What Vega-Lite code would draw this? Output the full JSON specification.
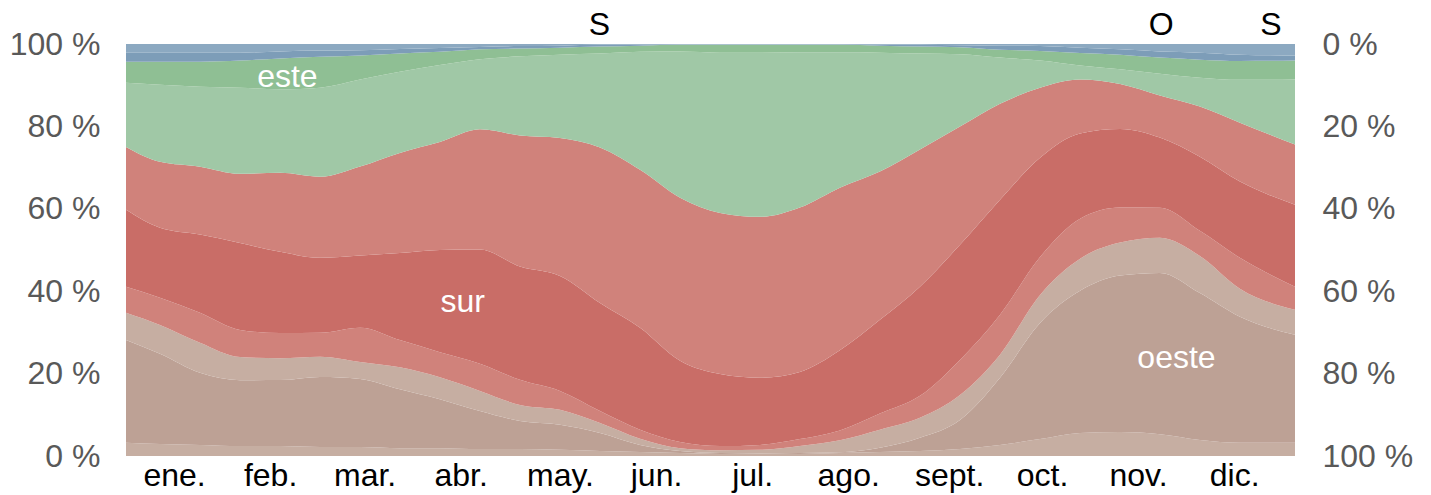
{
  "$schema": "https://vega.github.io/schema/vega-lite/v6.json",
  "autosize": {"type": "none"},
  "padding": {"left": 126, "top": 44, "right": 136, "bottom": 39},
  "width": 1169,
  "height": 412,
  "background": "white",
  "config": {
    "view": {"stroke": null},
    "font": "Liberation Sans"
  },
  "layer": [
    {
      "data": {"values": [
        {"d": 0, "k01": 3.2, "k02": 25.0, "k03": 6.6, "k04": 6.3, "k05": 18.7, "k06": 15.3, "k07": 15.6, "k08": 5.1, "k09": 2.2, "k10": 2.1},
        {"d": 10.6, "k01": 2.9, "k02": 21.9, "k03": 7.0, "k04": 6.6, "k05": 17.0, "k06": 16.0, "k07": 18.7, "k08": 5.6, "k09": 2.2, "k10": 2.1},
        {"d": 23.1, "k01": 2.7, "k02": 17.5, "k03": 7.3, "k04": 7.3, "k05": 19.0, "k06": 16.5, "k07": 19.4, "k08": 6.1, "k09": 2.2, "k10": 2.1},
        {"d": 35.6, "k01": 2.4, "k02": 16.0, "k03": 5.6, "k04": 6.6, "k05": 21.1, "k06": 16.8, "k07": 20.9, "k08": 6.6, "k09": 1.9, "k10": 2.1},
        {"d": 48.1, "k01": 2.4, "k02": 16.0, "k03": 5.3, "k04": 6.1, "k05": 19.7, "k06": 19.2, "k07": 20.2, "k08": 7.5, "k09": 1.7, "k10": 1.8},
        {"d": 60.6, "k01": 2.2, "k02": 17.0, "k03": 4.9, "k04": 5.8, "k05": 18.2, "k06": 19.7, "k07": 21.6, "k08": 7.5, "k09": 1.5, "k10": 1.6},
        {"d": 73.1, "k01": 2.2, "k02": 16.5, "k03": 4.1, "k04": 8.3, "k05": 17.5, "k06": 21.6, "k07": 21.1, "k08": 5.8, "k09": 1.3, "k10": 1.5},
        {"d": 85.5, "k01": 1.9, "k02": 14.3, "k03": 5.3, "k04": 6.6, "k05": 21.1, "k06": 24.3, "k07": 19.7, "k08": 4.4, "k09": 1.1, "k10": 1.2},
        {"d": 98.0, "k01": 1.9, "k02": 11.9, "k03": 5.3, "k04": 6.1, "k05": 24.8, "k06": 26.2, "k07": 18.7, "k08": 3.2, "k09": 0.9, "k10": 1.0},
        {"d": 110.5, "k01": 1.7, "k02": 9.2, "k03": 4.9, "k04": 6.6, "k05": 27.7, "k06": 29.2, "k07": 17.0, "k08": 2.4, "k09": 0.6, "k10": 0.7},
        {"d": 123.0, "k01": 1.7, "k02": 6.8, "k03": 3.9, "k04": 6.1, "k05": 27.5, "k06": 31.8, "k07": 19.2, "k08": 1.9, "k09": 0.6, "k10": 0.5},
        {"d": 135.5, "k01": 1.5, "k02": 6.1, "k03": 3.6, "k04": 4.6, "k05": 27.9, "k06": 33.5, "k07": 20.2, "k08": 1.7, "k09": 0.5, "k10": 0.4},
        {"d": 148.0, "k01": 1.2, "k02": 4.4, "k03": 2.4, "k04": 2.9, "k05": 26.2, "k06": 37.7, "k07": 22.8, "k08": 1.7, "k09": 0.4, "k10": 0.2},
        {"d": 160.5, "k01": 1.0, "k02": 1.7, "k03": 1.5, "k04": 2.2, "k05": 24.8, "k06": 38.4, "k07": 28.7, "k08": 1.5, "k09": 0.2, "k10": 0.2},
        {"d": 173.0, "k01": 0.7, "k02": 0.5, "k03": 0.7, "k04": 1.5, "k05": 19.7, "k06": 39.6, "k07": 35.5, "k08": 1.6, "k09": 0.1, "k10": 0.1},
        {"d": 185.5, "k01": 0.5, "k02": 0.2, "k03": 0.7, "k04": 1.0, "k05": 17.5, "k06": 39.1, "k07": 38.9, "k08": 1.9, "k09": 0.1, "k10": 0.1},
        {"d": 198.0, "k01": 0.5, "k02": 0.1, "k03": 0.9, "k04": 1.2, "k05": 16.3, "k06": 39.1, "k07": 39.9, "k08": 1.9, "k09": 0.1, "k10": 0.1},
        {"d": 210.4, "k01": 0.5, "k02": 0.2, "k03": 1.7, "k04": 1.7, "k05": 16.3, "k06": 39.9, "k07": 37.7, "k08": 1.8, "k09": 0.1, "k10": 0.1},
        {"d": 222.9, "k01": 0.7, "k02": 0.2, "k03": 2.9, "k04": 2.4, "k05": 19.4, "k06": 39.4, "k07": 32.8, "k08": 1.8, "k09": 0.1, "k10": 0.1},
        {"d": 235.4, "k01": 1.0, "k02": 1.0, "k03": 4.4, "k04": 3.9, "k05": 22.8, "k06": 36.0, "k07": 28.9, "k08": 1.7, "k09": 0.2, "k10": 0.2},
        {"d": 247.9, "k01": 1.2, "k02": 3.2, "k03": 4.9, "k04": 5.3, "k05": 26.5, "k06": 33.3, "k07": 23.3, "k08": 1.7, "k09": 0.4, "k10": 0.2},
        {"d": 260.4, "k01": 1.7, "k02": 7.0, "k03": 6.1, "k04": 8.5, "k05": 27.9, "k06": 28.7, "k07": 17.5, "k08": 1.7, "k09": 0.5, "k10": 0.3},
        {"d": 272.9, "k01": 2.7, "k02": 16.3, "k03": 5.6, "k04": 9.7, "k05": 27.9, "k06": 23.3, "k07": 11.2, "k08": 1.9, "k09": 1.0, "k10": 0.4},
        {"d": 285.4, "k01": 4.1, "k02": 28.2, "k03": 6.8, "k04": 9.2, "k05": 24.1, "k06": 17.0, "k07": 6.6, "k08": 2.3, "k09": 1.2, "k10": 0.5},
        {"d": 297.9, "k01": 5.6, "k02": 34.5, "k03": 7.8, "k04": 9.7, "k05": 20.7, "k06": 13.1, "k07": 3.4, "k08": 3.0, "k09": 1.3, "k10": 0.9},
        {"d": 310.4, "k01": 5.8, "k02": 37.9, "k03": 8.0, "k04": 8.5, "k05": 19.0, "k06": 10.9, "k07": 3.6, "k08": 3.5, "k09": 1.3, "k10": 1.3},
        {"d": 322.8, "k01": 5.3, "k02": 39.1, "k03": 8.5, "k04": 7.3, "k05": 17.0, "k06": 10.2, "k07": 5.3, "k08": 3.9, "k09": 1.5, "k10": 1.8},
        {"d": 335.3, "k01": 3.9, "k02": 35.7, "k03": 9.0, "k04": 6.1, "k05": 18.0, "k06": 12.2, "k07": 7.0, "k08": 4.4, "k09": 1.7, "k10": 2.1},
        {"d": 347.8, "k01": 3.2, "k02": 30.6, "k03": 6.8, "k04": 7.5, "k05": 18.5, "k06": 14.3, "k07": 10.4, "k08": 4.6, "k09": 1.5, "k10": 2.6},
        {"d": 365, "k01": 3.2, "k02": 26.2, "k03": 6.1, "k04": 5.6, "k05": 19.9, "k06": 14.6, "k07": 15.8, "k08": 4.6, "k09": 1.2, "k10": 2.8}
      ]},
      "transform": [{"fold": ["k01", "k02", "k03", "k04", "k05", "k06", "k07", "k08", "k09", "k10"], "as": ["band", "pct"]}],
      "mark": {"type": "area", "interpolate": "monotone"},
      "encoding": {
        "x": {
          "field": "d", "type": "quantitative",
          "scale": {"domain": [0, 365], "nice": false, "zero": false},
          "axis": {
            "values": [15, 45, 74.5, 104.5, 135.5, 165.5, 195.5, 225.5, 257, 286, 316, 346],
            "labelExpr": "['ene.','feb.','mar.','abr.','may.','jun.','jul.','ago.','sept.','oct.','nov.','dic.'][floor(datum.value/30.42)]",
            "title": null, "grid": false, "ticks": false, "domain": false,
            "labelFontSize": 32, "labelColor": "#000000", "labelFont": "Liberation Sans",
            "labelPadding": 4, "labelFlush": false, "labelOverlap": false
          }
        },
        "y": {
          "field": "pct", "type": "quantitative", "stack": "normalize",
          "scale": {"domain": [0, 1], "nice": false},
          "axis": {
            "orient": "left",
            "values": [0, 0.2, 0.4, 0.6, 0.8, 1],
            "labelExpr": "round(datum.value*100) + ' %'",
            "title": null, "grid": false, "ticks": false, "domain": false,
            "labelFontSize": 32, "labelColor": "#595959", "labelFont": "Liberation Sans",
            "labelPadding": 26, "labelFlush": false
          }
        },
        "color": {
          "field": "band", "type": "nominal",
          "scale": {
            "domain": ["k01", "k02", "k03", "k04", "k05", "k06", "k07", "k08", "k09", "k10"],
            "range": ["#c6aea2", "#bda195", "#c6aea2", "#d0827b", "#c96d67", "#d0827b", "#a0c8a6", "#8fbf94", "#7d9db8", "#8ca9c1"]
          },
          "legend": null
        },
        "order": {"field": "band", "sort": "ascending"}
      }
    },
    {
      "data": {"values": [
        {"d": 50.4, "y": 0.92, "t": "este"},
        {"d": 105.1, "y": 0.374, "t": "sur"},
        {"d": 328, "y": 0.238, "t": "oeste"}
      ]},
      "mark": {"type": "text", "fontSize": 32, "font": "Liberation Sans", "color": "#ffffff", "baseline": "middle", "align": "center"},
      "encoding": {
        "x": {
          "field": "d", "type": "quantitative",
          "scale": {"domain": [0, 365], "nice": false, "zero": false},
          "axis": {
            "values": [15, 45, 74.5, 104.5, 135.5, 165.5, 195.5, 225.5, 257, 286, 316, 346],
            "labelExpr": "['ene.','feb.','mar.','abr.','may.','jun.','jul.','ago.','sept.','oct.','nov.','dic.'][floor(datum.value/30.42)]",
            "title": null, "grid": false, "ticks": false, "domain": false,
            "labelFontSize": 32, "labelColor": "#000000", "labelFont": "Liberation Sans",
            "labelPadding": 4, "labelFlush": false, "labelOverlap": false
          }
        },
        "y": {
          "field": "y", "type": "quantitative",
          "scale": {"domain": [0, 1], "nice": false},
          "axis": {
            "orient": "right",
            "values": [0, 0.2, 0.4, 0.6, 0.8, 1],
            "labelExpr": "round(100 - datum.value*100) + ' %'",
            "title": null, "grid": false, "ticks": false, "domain": false,
            "labelFontSize": 32, "labelColor": "#595959", "labelFont": "Liberation Sans",
            "labelPadding": 27, "labelFlush": false
          }
        },
        "text": {"field": "t"}
      }
    },
    {
      "data": {"values": [
        {"d": 147.8, "y": 1.047, "t": "S"},
        {"d": 323.2, "y": 1.047, "t": "O"},
        {"d": 357.5, "y": 1.047, "t": "S"}
      ]},
      "mark": {"type": "text", "fontSize": 32, "font": "Liberation Sans", "color": "#000000", "baseline": "middle", "align": "center"},
      "encoding": {
        "x": {
          "field": "d", "type": "quantitative",
          "scale": {"domain": [0, 365], "nice": false, "zero": false},
          "axis": {
            "values": [15, 45, 74.5, 104.5, 135.5, 165.5, 195.5, 225.5, 257, 286, 316, 346],
            "labelExpr": "['ene.','feb.','mar.','abr.','may.','jun.','jul.','ago.','sept.','oct.','nov.','dic.'][floor(datum.value/30.42)]",
            "title": null, "grid": false, "ticks": false, "domain": false,
            "labelFontSize": 32, "labelColor": "#000000", "labelFont": "Liberation Sans",
            "labelPadding": 4, "labelFlush": false, "labelOverlap": false
          }
        },
        "y": {"field": "y", "type": "quantitative", "scale": {"domain": [0, 1], "nice": false}, "axis": null},
        "text": {"field": "t"}
      }
    }
  ],
  "resolve": {"axis": {"y": "independent"}}
}
